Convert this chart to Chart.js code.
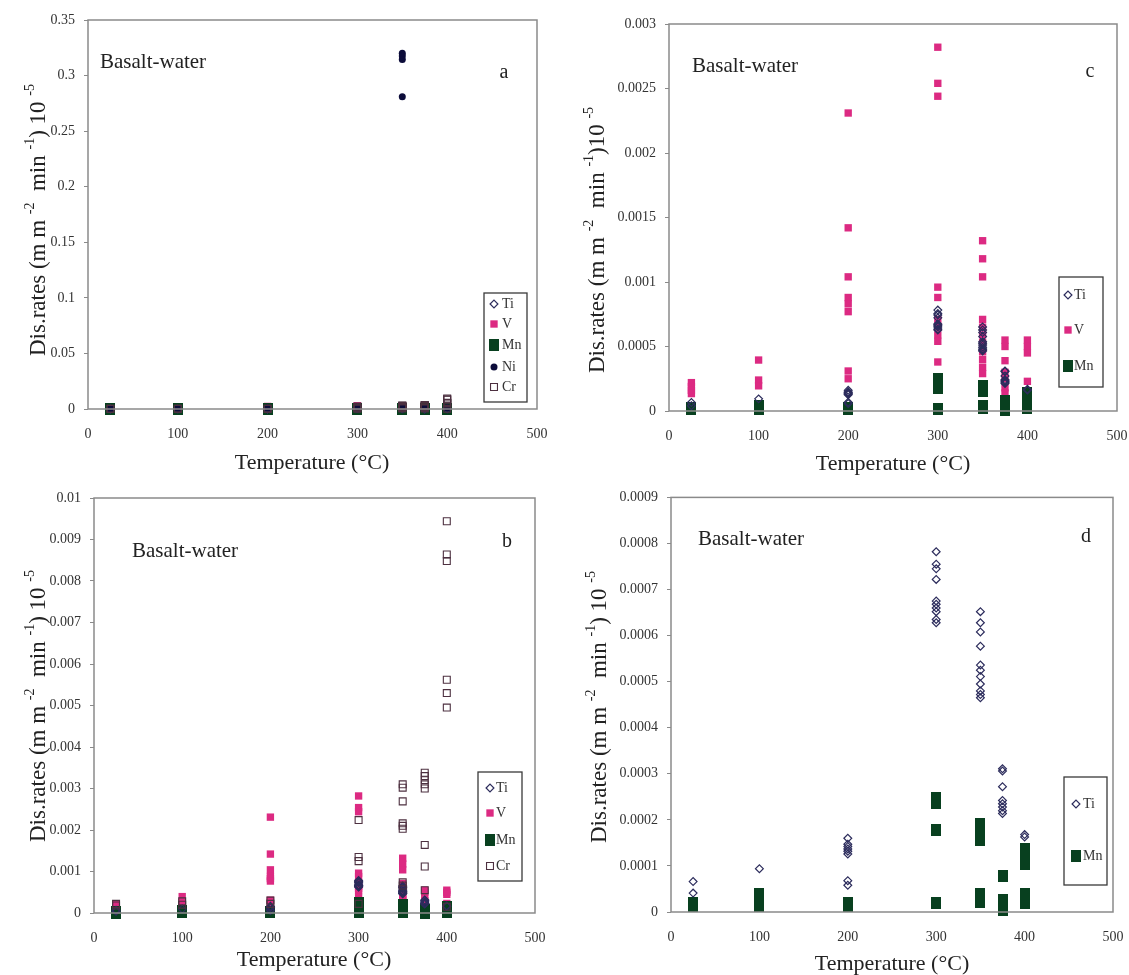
<!DOCTYPE html>
<html>
<head>
<meta charset="utf-8">
<title>Basalt-water dissolution rates</title>
<script src="https://cdn.jsdelivr.net/npm/chart.js@4.4.1/dist/chart.umd.min.js"></script>
<style>
  html, body { margin: 0; padding: 0; background: #fff; }
  #figure { position: relative; width: 1129px; height: 975px; overflow: hidden; }
  .panel { position: absolute; }
</style>
</head>
<body>
<div id="figure">
  <div class="panel" style="left:0;top:0;width:565px;height:480px"><canvas id="chartA"></canvas></div>
  <div class="panel" style="left:565px;top:0;width:584px;height:480px"><canvas id="chartC"></canvas></div>
  <div class="panel" style="left:0;top:480px;width:565px;height:495px"><canvas id="chartB"></canvas></div>
  <div class="panel" style="left:565px;top:480px;width:584px;height:495px"><canvas id="chartD"></canvas></div>
</div>
<script>
// experiment temperatures (°C)
const temps = [25, 100, 200, 300, 350, 375, 400];

// dissolution rates, one list per temperature above
const tiRates = [
    [0.000066, 0.000041],
    [0.000094],
    [0.000160, 0.000147, 0.000142, 0.000137, 0.000132, 0.000126, 0.000068, 0.000058],
    [0.000782, 0.000755, 0.000745, 0.000722, 0.000675, 0.000668, 0.000660, 0.000652, 0.000635, 0.000628],
    [0.000652, 0.000628, 0.000608, 0.000577, 0.000536, 0.000525, 0.000511, 0.000495, 0.000480, 0.000472, 0.000465],
    [0.000311, 0.000306, 0.000272, 0.000242, 0.000235, 0.000228, 0.000220, 0.000214],
    [0.000168, 0.000163]
];
const vRates = [
    [0.00022, 0.00019, 0.00016, 0.000135],
    [0.000395, 0.00024, 0.000195],
    [0.00231, 0.00142, 0.00104, 0.00088, 0.00083, 0.00077, 0.00031, 0.00025],
    [0.00282, 0.00254, 0.00244, 0.00096, 0.00088, 0.00071, 0.00065, 0.00059, 0.00054, 0.00038],
    [0.00132, 0.00118, 0.00104, 0.00071, 0.00065, 0.00059, 0.00053, 0.00046, 0.00040, 0.00034, 0.00029],
    [0.00055, 0.00050, 0.00039, 0.00030, 0.00025, 0.00018, 0.00014],
    [0.00055, 0.00050, 0.00045, 0.00023]
];
const mnRates = [
    [0.000020, 0.000015, 0.000012],
    [0.000040, 0.000033, 0.000025, 0.000018, 0.000013],
    [0.000020, 0.000013],
    [0.000248, 0.000236, 0.000179, 0.000019],
    [0.000191, 0.000180, 0.000168, 0.000157, 0.000038, 0.000030, 0.000022],
    [0.000078, 0.000025, 0.000015, 0.000005],
    [0.000137, 0.000125, 0.000115, 0.000105, 0.000038, 0.000028, 0.000020]
];
const niRates = [
    [0.0003],
    [0.0005],
    [0.0008],
    [0.0012],
    [0.3200, 0.3175, 0.3145, 0.2810, 0.0015],
    [0.0010],
    [0.0012]
];
const crRates = [
    [0.00022, 0.00018],
    [0.00028, 0.00020],
    [0.00030, 0.00022],
    [0.00224, 0.00135, 0.00125, 0.00022],
    [0.00310, 0.00302, 0.00269, 0.00216, 0.00210, 0.00203, 0.00074, 0.00066],
    [0.00338, 0.00330, 0.00320, 0.00310, 0.00300, 0.00164, 0.00112, 0.00055],
    [0.00944, 0.00864, 0.00848, 0.00562, 0.00530, 0.00495, 0.00015]
];

// axis ticks
const xTicks = [0, 100, 200, 300, 400, 500];
const yTicksA = [0, 0.05, 0.1, 0.15, 0.2, 0.25, 0.3, 0.35];
const yTicksB = [0, 0.001, 0.002, 0.003, 0.004, 0.005, 0.006, 0.007, 0.008, 0.009, 0.01];
const yTicksC = [0, 0.0005, 0.001, 0.0015, 0.002, 0.0025, 0.003];
const yTicksD = [0, 0.0001, 0.0002, 0.0003, 0.0004, 0.0005, 0.0006, 0.0007, 0.0008, 0.0009];

const seriesRates = { Ti: tiRates, V: vRates, Mn: mnRates, Ni: niRates, Cr: crRates };

const SERIF = '"Liberation Serif", "Times New Roman", serif';

// Mn is drawn as a slightly tall solid box
function boxMarker(w, h, color) {
    const c = document.createElement('canvas');
    c.width = w;
    c.height = h;
    const g = c.getContext('2d');
    g.fillStyle = color;
    g.fillRect(0, 0, w, h);
    return c;
}

const seriesStyle = {
    Ti: { pointStyle: 'rectRot', radius: 3.9, fill: 'rgba(0,0,0,0)', stroke: '#2c2c5c', borderWidth: 1.2, order: 2 },
    V: { pointStyle: 'rect', radius: 5.2, fill: '#dc2a82', stroke: '#dc2a82', borderWidth: 0, order: 4 },
    Mn: { pointStyle: boxMarker(10, 12, '#08401f'), radius: 6, fill: '#08401f', stroke: '#08401f', borderWidth: 0, order: 3 },
    Ni: { pointStyle: 'circle', radius: 3.5, fill: '#0c0c3a', stroke: '#0c0c3a', borderWidth: 0, order: 1 },
    Cr: { pointStyle: 'rect', radius: 4.9, fill: 'rgba(0,0,0,0)', stroke: '#4d3040', borderWidth: 1.1, order: 0 }
};

const panels = [
    {
        canvas: 'chartA', w: 565, h: 480,
        area: { left: 88, top: 20, right: 537, bottom: 409 },
        yTicks: yTicksA, series: ['Ti', 'V', 'Mn', 'Ni', 'Cr'],
        letter: 'a', letterPos: [504, 73], basaltPos: [100, 62],
        xTitlePos: [312, 463], yTitlePos: [37, 220], yTitleClose: ') 10 ',
        legendBox: [484, 293, 527, 402], legendMarkerX: 494, legendTextX: 502,
        legendRows: [304, 324, 345, 367, 387]
    },
    {
        canvas: 'chartC', w: 584, h: 480,
        area: { left: 104, top: 24, right: 552, bottom: 411 },
        yTicks: yTicksC, series: ['Ti', 'V', 'Mn'],
        letter: 'c', letterPos: [525, 72], basaltPos: [127, 66],
        xTitlePos: [328, 464], yTitlePos: [31, 240], yTitleClose: ')10 ',
        legendBox: [494, 277, 538, 387], legendMarkerX: 503, legendTextX: 509,
        legendRows: [295, 330, 366]
    },
    {
        canvas: 'chartB', w: 565, h: 495,
        area: { left: 94, top: 18, right: 535, bottom: 433 },
        yTicks: yTicksB, series: ['Ti', 'V', 'Mn', 'Cr'],
        letter: 'b', letterPos: [507, 62], basaltPos: [132, 71],
        xTitlePos: [314, 480], yTitlePos: [37, 226], yTitleClose: ') 10 ',
        legendBox: [478, 292, 522, 401], legendMarkerX: 490, legendTextX: 496,
        legendRows: [308, 333, 360, 386]
    },
    {
        canvas: 'chartD', w: 584, h: 495,
        area: { left: 106, top: 14, right: 548, bottom: 432 },
        yTicks: yTicksD, series: ['Ti', 'Mn'],
        letter: 'd', letterPos: [521, 57], basaltPos: [133, 59],
        xTitlePos: [327, 484], yTitlePos: [33, 227], yTitleClose: ') 10 ',
        legendBox: [499, 297, 542, 405], legendMarkerX: 511, legendTextX: 518,
        legendRows: [324, 376]
    }
];

function toPoints(rates) {
    const points = [];
    rates.forEach((vals, i) => {
        vals.forEach(v => points.push({ x: temps[i], y: v }));
    });
    return points;
}

function drawMarker(ctx, name, x, y) {
    const s = seriesStyle[name];
    ctx.fillStyle = s.fill;
    ctx.strokeStyle = s.stroke;
    ctx.lineWidth = s.borderWidth;
    Chart.helpers.drawPoint(ctx, { pointStyle: s.pointStyle, radius: s.radius, rotation: 0, borderWidth: s.borderWidth }, x, y);
}

function drawYTitle(ctx, p) {
    const parts = [
        ['Dis.rates (m m ', false],
        ['-2', true],
        ['  min ', false],
        ['-1', true],
        [p.yTitleClose, false],
        ['-5', true]
    ];
    const big = '23px ' + SERIF;
    const small = '14px ' + SERIF;
    ctx.save();
    ctx.translate(p.yTitlePos[0], p.yTitlePos[1]);
    ctx.rotate(-Math.PI / 2);
    ctx.fillStyle = '#222';
    ctx.textBaseline = 'alphabetic';
    ctx.textAlign = 'left';
    let total = 0;
    parts.forEach(([t, sup]) => {
        ctx.font = sup ? small : big;
        total += ctx.measureText(t).width;
    });
    let x = -total / 2;
    parts.forEach(([t, sup]) => {
        ctx.font = sup ? small : big;
        ctx.fillText(t, x, sup ? -3 : 8);
        x += ctx.measureText(t).width;
    });
    ctx.restore();
}

function makeDecorPlugin(p) {
    return {
        id: 'panelDecor',
        afterDatasetsDraw(chart) {
            const ctx = chart.ctx;
            const a = chart.chartArea;
            ctx.save();

            // plot frame
            ctx.strokeStyle = '#8a8a8a';
            ctx.lineWidth = 1.5;
            ctx.strokeRect(a.left, a.top, a.right - a.left, a.bottom - a.top);

            // legend
            const [bx1, by1, bx2, by2] = p.legendBox;
            ctx.fillStyle = '#fff';
            ctx.fillRect(bx1, by1, bx2 - bx1, by2 - by1);
            ctx.strokeStyle = '#3a3a3a';
            ctx.lineWidth = 1.3;
            ctx.strokeRect(bx1, by1, bx2 - bx1, by2 - by1);
            p.series.forEach((name, i) => {
                const y = p.legendRows[i];
                drawMarker(ctx, name, p.legendMarkerX, y);
                ctx.fillStyle = '#333';
                ctx.font = '14px ' + SERIF;
                ctx.textBaseline = 'middle';
                ctx.textAlign = 'left';
                ctx.fillText(name, p.legendTextX, y);
            });

            // annotations
            ctx.fillStyle = '#222';
            ctx.textBaseline = 'middle';
            ctx.textAlign = 'left';
            ctx.font = '21px ' + SERIF;
            ctx.fillText('Basalt-water', p.basaltPos[0], p.basaltPos[1]);
            ctx.textAlign = 'center';
            ctx.font = '20px ' + SERIF;
            ctx.fillText(p.letter, p.letterPos[0], p.letterPos[1]);

            // axis titles
            ctx.font = '22px ' + SERIF;
            ctx.fillText('Temperature (°C)', p.xTitlePos[0], p.xTitlePos[1]);
            drawYTitle(ctx, p);

            ctx.restore();
        }
    };
}

function buildPanel(p) {
    const datasets = p.series.map(name => {
        const s = seriesStyle[name];
        return {
            label: name,
            data: toPoints(seriesRates[name]),
            order: s.order,
            clip: false,
            pointStyle: s.pointStyle,
            pointRadius: s.radius,
            pointHoverRadius: s.radius,
            pointBackgroundColor: s.fill,
            pointBorderColor: s.stroke,
            pointBorderWidth: s.borderWidth,
            backgroundColor: s.fill,
            borderColor: s.stroke
        };
    });

    const tickFont = { family: SERIF, size: 14 };

    new Chart(document.getElementById(p.canvas), {
        type: 'scatter',
        data: { datasets: datasets },
        options: {
            responsive: true,
            maintainAspectRatio: false,
            animation: false,
            events: [],
            layout: {
                padding: { left: 0, top: p.area.top, right: p.w - p.area.right, bottom: 0 }
            },
            plugins: {
                legend: { display: false },
                tooltip: { enabled: false }
            },
            scales: {
                x: {
                    type: 'linear',
                    min: 0,
                    max: 500,
                    afterBuildTicks: scale => { scale.ticks = xTicks.map(v => ({ value: v })); },
                    afterFit: scale => { scale.height = p.h - p.area.bottom; },
                    grid: { display: false },
                    border: { display: false },
                    ticks: {
                        padding: 9,
                        color: '#333',
                        font: tickFont,
                        maxRotation: 0,
                        autoSkip: false,
                        callback: v => String(v)
                    }
                },
                y: {
                    type: 'linear',
                    min: 0,
                    max: p.yTicks[p.yTicks.length - 1],
                    afterBuildTicks: scale => { scale.ticks = p.yTicks.map(v => ({ value: v })); },
                    afterFit: scale => { scale.width = p.area.left; },
                    grid: {
                        display: true,
                        drawOnChartArea: false,
                        drawTicks: true,
                        tickLength: 4,
                        color: '#8a8a8a',
                        lineWidth: 1
                    },
                    border: { display: false },
                    ticks: {
                        padding: 9,
                        color: '#333',
                        font: tickFont,
                        autoSkip: false,
                        callback: v => String(v)
                    }
                }
            }
        },
        plugins: [makeDecorPlugin(p)]
    });
}

panels.forEach(buildPanel);
</script>
</body>
</html>
